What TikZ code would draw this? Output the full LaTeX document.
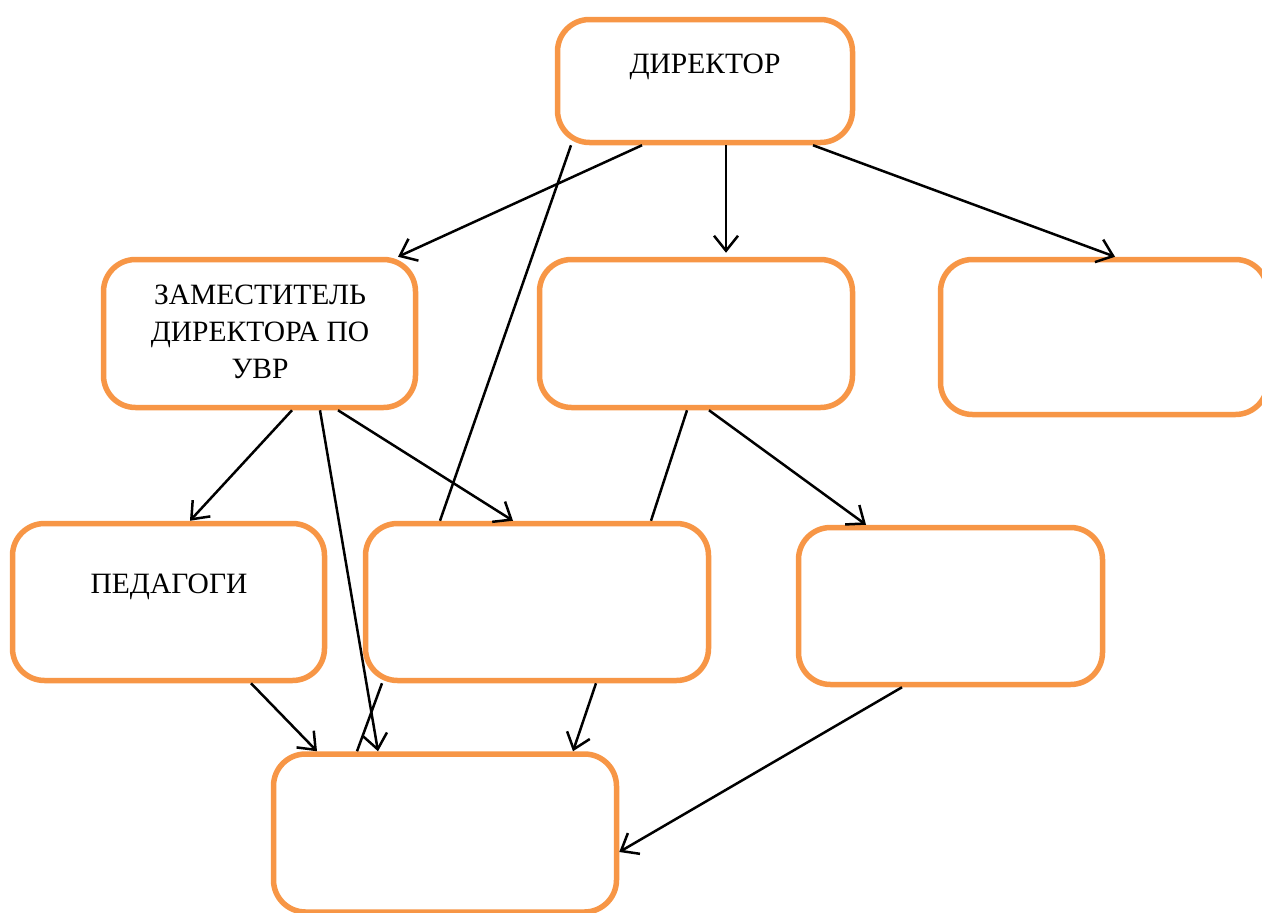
\documentclass[tikz,border=0pt]{standalone}
\usepackage{fontspec}
\setmainfont{Liberation Serif}
\usetikzlibrary{arrows.meta}
\definecolor{boxorange}{HTML}{F79646}
\begin{document}
\begin{tikzpicture}[x=1pt,y=-1pt,
  orgbox/.style={draw=boxorange,line width=5.5pt,rounded corners=32pt,fill=white,inner sep=0pt},
  lbl/.style={font=\fontsize{29.5}{37}\selectfont,align=center,inner sep=0pt},
  conn/.style={line width=2.5pt,black},
  arr/.style={conn,-{Straight Barb[length=15pt,width=24pt,line width=2.5pt]}}]
\useasboundingbox (0,0) rectangle (1262,913);
\clip (0,0) rectangle (1262,913);
\node[orgbox,minimum width=295pt,minimum height=123pt] (dir) at (705,81) {};
\node[orgbox,minimum width=312pt,minimum height=148pt] (zam) at (259.5,333.5) {};
\node[orgbox,minimum width=313pt,minimum height=148pt] (mid) at (696,333.5) {};
\node[orgbox,minimum width=327pt,minimum height=155pt] (rgt) at (1104,337) {};
\node[orgbox,minimum width=312pt,minimum height=157pt] (ped) at (168.5,602) {};
\node[orgbox,minimum width=343pt,minimum height=157pt] (cen) at (537,602) {};
\node[orgbox,minimum width=304pt,minimum height=157pt] (rlo) at (950.5,606) {};
\node[orgbox,minimum width=343pt,minimum height=158pt] (bot) at (445,833) {};
\node[lbl] (tdir) at (705,67) {ДИРЕКТОР};
\node[lbl] (tzam) at (260,332) {ЗАМЕСТИТЕЛЬ\\ДИРЕКТОРА ПО\\УВР};
\node[lbl] (tped) at (169,587) {ПЕДАГОГИ};
\draw[arr] ([xshift=-63pt]dir.south) -- ([xshift=138.5pt]zam.north);
\draw[arr] ([xshift=21pt]dir.south) -- ([xshift=30pt,yshift=4pt]mid.north);
\draw[arr] ([xshift=108pt]dir.south) -- ([xshift=11pt]rgt.north);
\draw[conn] ([xshift=-134pt]dir.south) -- ([xshift=-97pt]cen.north);
\draw[arr] ([xshift=32.5pt]zam.south) -- ([xshift=21.5pt]ped.north);
\draw[arr] ([xshift=60.5pt]zam.south) -- ([xshift=-67pt]bot.north);
\draw[arr] ([xshift=78.5pt]zam.south) -- ([xshift=-24pt]cen.north);
\draw[conn] ([xshift=-9pt]mid.south) -- ([xshift=114pt]cen.north);
\draw[arr] ([xshift=13pt]mid.south) -- ([xshift=-84.5pt]rlo.north);
\draw[arr] ([xshift=82.5pt]ped.south) -- ([xshift=-128pt]bot.north);
\draw[conn] ([xshift=-155pt]cen.south) -- ([xshift=-88pt]bot.north);
\draw[arr] ([xshift=59pt]cen.south) -- ([xshift=128pt]bot.north);
\draw[arr] ([xshift=-48.5pt]rlo.south) -- ([yshift=-19pt]bot.east);
\end{tikzpicture}
\end{document}
